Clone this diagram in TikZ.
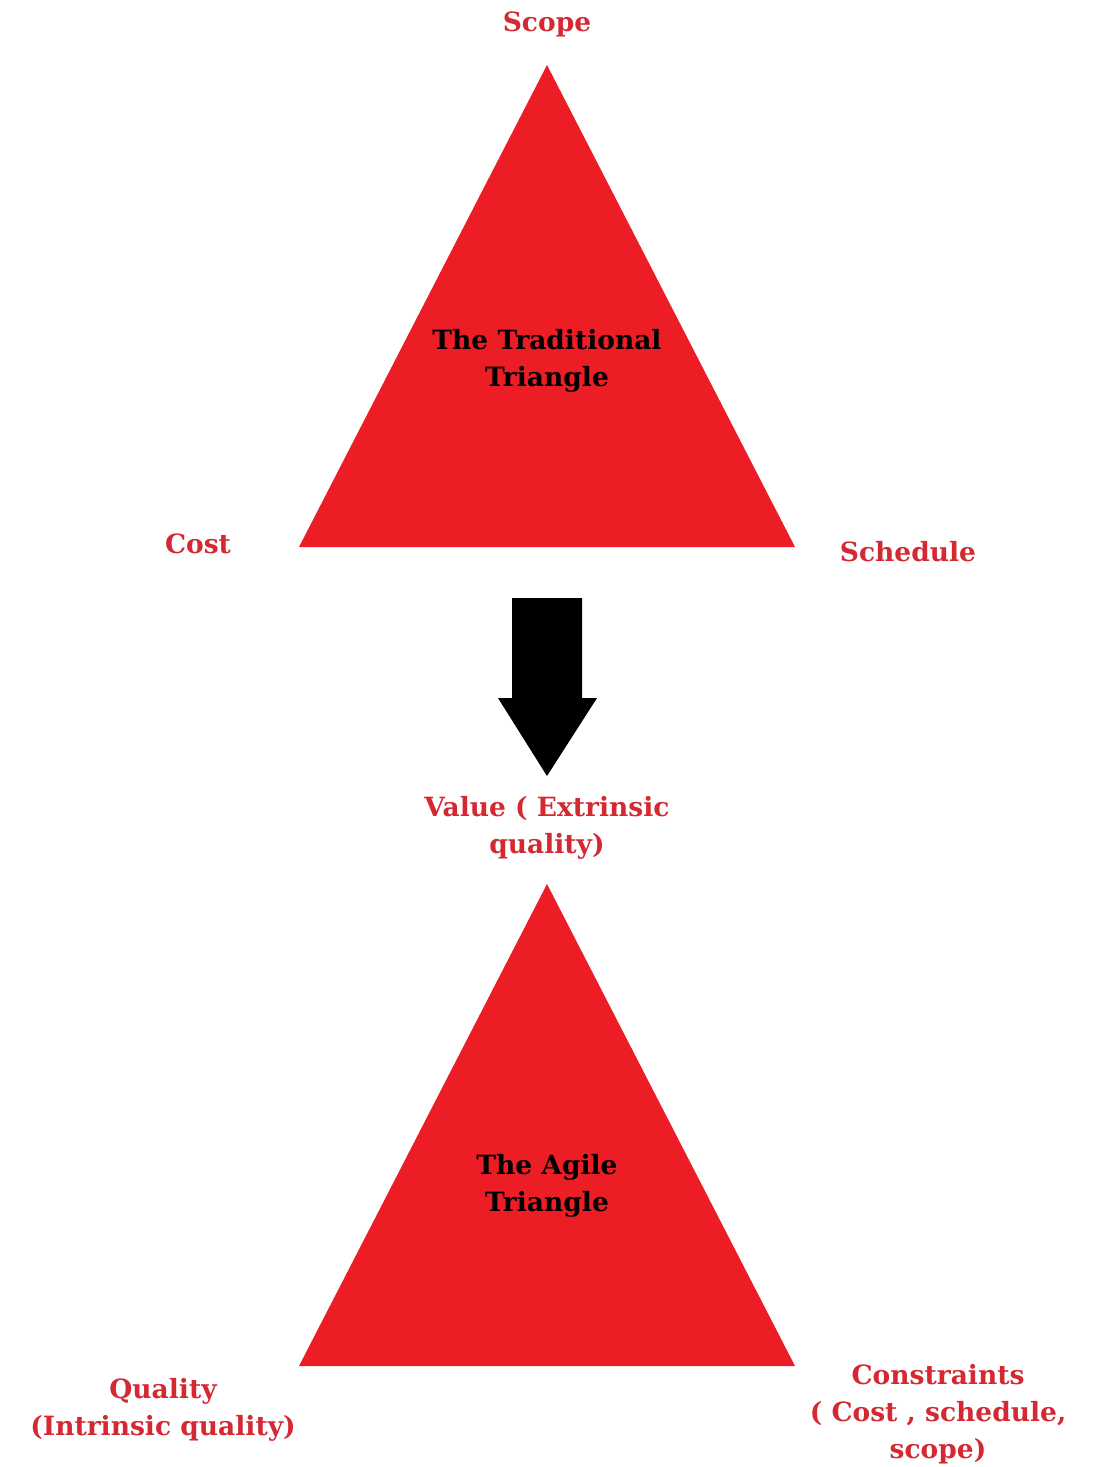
\documentclass[tikz,border=0pt]{standalone}
\usepackage{xcolor}
\usepackage{fontspec}
\setmainfont{DejaVu Serif}[BoldFont={DejaVu Serif Bold}]
\definecolor{trired}{RGB}{237,29,37}
\definecolor{labred}{RGB}{212,40,50}

\tikzset{
  lab/.style={anchor=center, inner sep=0.75pt, align=center, text=labred, font=\bfseries\fontsize{26.5}{37}\selectfont},
  inlab/.style={lab, text=black}
}

\begin{document}
\begin{tikzpicture}[x=1pt,y=1pt,yscale=-1,xscale=1]
\useasboundingbox (0,0) rectangle (1100,1467);

%Shape: Triangle [id:traditional]
\fill [trired] (547,65) -- (795,547) -- (299,547) -- cycle ;
%Shape: Triangle [id:agile]
\fill [trired] (547,884) -- (795,1366) -- (299,1366) -- cycle ;
%Shape: Down Arrow [id:arrow]
\fill [black] (512,598) -- (582,598) -- (582,698) -- (597,698) -- (547,776) -- (498,698) -- (512,698) -- cycle ;

% Text Node
\node [lab] (scope) at (547,24) {Scope};
% Text Node
\node [lab] (cost) at (198,544) {Cost};
% Text Node
\node [lab] (schedule) at (908,552) {Schedule};
% Text Node
\node [inlab] (traditional) at (547,361) {The Traditional\\Triangle};
% Text Node
\node [lab] (value) at (547,828) {Value ( Extrinsic\\quality)};
% Text Node
\node [inlab] (agile) at (547,1186) {The Agile\\Triangle};
% Text Node
\node [lab] (quality) at (163,1410) {Quality\\(Intrinsic quality)};
% Text Node
\node [lab] (constraints) at (938,1414) {Constraints\\( Cost , schedule,\\scope)};

\end{tikzpicture}
\end{document}
